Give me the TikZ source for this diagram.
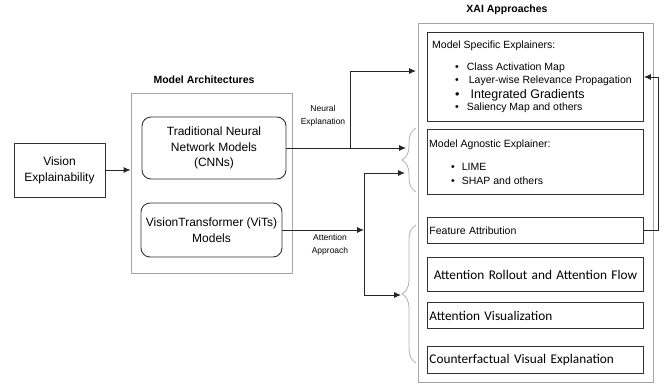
\documentclass[tikz,border=0pt]{standalone}
\usepackage{fontspec}
\setmainfont{Liberation Sans}
\newfontfamily\calib{Carlito}
\usetikzlibrary{arrows.meta,positioning,decorations.pathreplacing}
\tikzset{
  box/.style={draw=black!80, line width=0.9pt, align=center, inner sep=1pt},
  model/.style={box, rounded corners=9pt, font=\fontsize{12}{15.5}\selectfont},
  frame/.style={draw=black!35, line width=0.8pt},
  heading/.style={font=\fontsize{10.5}{12}\selectfont\bfseries},
  entry/.style={box, anchor=north west, minimum width=216pt, text width=212pt,
    inner sep=2pt, align=left, font=\fontsize{10.5}{12}\selectfont},
  bigentry/.style={entry, font=\calib\fontsize{13.3}{15}\selectfont},
  txt/.style={font=\fontsize{10.5}{12}\selectfont, inner sep=0pt, anchor=west},
  note/.style={font=\fontsize{8.5}{13}\selectfont, align=center, inner sep=0pt},
  arrow/.style={-{Latex[length=7pt,width=6pt]}, line width=0.9pt, black!85},
  brace/.style={draw=black!30, line width=0.8pt, decorate,
    decoration={brace, amplitude=14pt}},
}

\begin{document}
\begin{tikzpicture}[x=1pt, y=-1pt]
  \useasboundingbox (0,0) rectangle (668,383);

  % input
  \node[box, minimum width=91pt, minimum height=54pt,
    font=\fontsize{12}{16}\selectfont] (vis) at (59.5,170) {Vision\\Explainability};

  % model architectures
  \node[frame, minimum width=161pt, minimum height=180pt] (arch) at (211.5,183) {};
  \node[heading] (archtitle) at (204,80) {Model Architectures};
  \node[model, minimum width=144pt, minimum height=62pt] (cnn) at (214,148)
    {Traditional Neural\\Network Models\\(CNNs)};
  \node[model, minimum width=141pt, minimum height=54pt] (vit) at (211.5,230)
    {VisionTransformer (ViTs)\\Models};

  % xai approaches
  \node[frame, minimum width=235pt, minimum height=359pt] (xai) at (535.5,202.5) {};
  \node[heading] (xaititle) at (507,10) {XAI Approaches};

  \node[entry, minimum height=89pt] (spec) at (427,32) {};
  \node[txt] (spectitle) at (432,46) {Model Specific Explainers:};
  \node[txt] (cam) at (455,68) {\textbullet\hspace{8pt}Class Activation Map};
  \node[txt] (lrp) at (455,81) {\textbullet\hspace{10pt}Layer-wise Relevance Propagation};
  \node[txt, font=\fontsize{12.5}{14}\selectfont] (ig) at (455,95)
    {\textbullet\hspace{11pt}Integrated Gradients};
  \node[txt] (sal) at (455,108) {\textbullet\hspace{8pt}Saliency Map and others};

  \node[entry, minimum height=65pt] (agn) at (427,129) {};
  \node[txt] (agntitle) at (429,145) {Model Agnostic Explainer:};
  \node[txt] (lime) at (451,167) {\textbullet\hspace{7pt}LIME};
  \node[txt] (shap) at (451,181) {\textbullet\hspace{7pt}SHAP and others};

  \node[entry, minimum height=26pt] (feat) at (427,217) {Feature Attribution};
  \node[bigentry, minimum height=34pt, align=center] (roll) at (427,257)
    {Attention Rollout and Attention Flow};
  \node[bigentry, minimum height=26pt] (attvis) at (427,302) {Attention Visualization};
  \node[bigentry, minimum height=27pt] (cf) at (427,346) {Counterfactual Visual Explanation};

  % braces
  \draw[brace] (416,192) -- (416,128);
  \draw[brace] (416,363) -- (416,225);

  % connectors
  \coordinate (nsplit) at (350,148);
  \coordinate (nin) at (406,148);
  \coordinate (sin) at (416,71);
  \coordinate (vjoin) at (364,230);
  \coordinate (ain) at (405,173);
  \coordinate (vin) at (401,295);

  \draw[arrow] (vis.east) -- (vis.east -| arch.west);
  \draw[arrow] (cnn.east) -- (nin);
  \draw[arrow] (nsplit) |- (sin);
  \draw[arrow] (vit.east) -- (vjoin);
  \draw[arrow] (vjoin |- ain) -- (ain);
  \draw[arrow] (vjoin |- ain) |- (vin);
  \draw[arrow] (feat.east) -- ++(15,0) |- (spec.east);

  \node[note] (nlab) at (323,116) {Neural\\Explanation};
  \node[note] (alab) at (330,245) {Attention\\Approach};
\end{tikzpicture}
\end{document}
